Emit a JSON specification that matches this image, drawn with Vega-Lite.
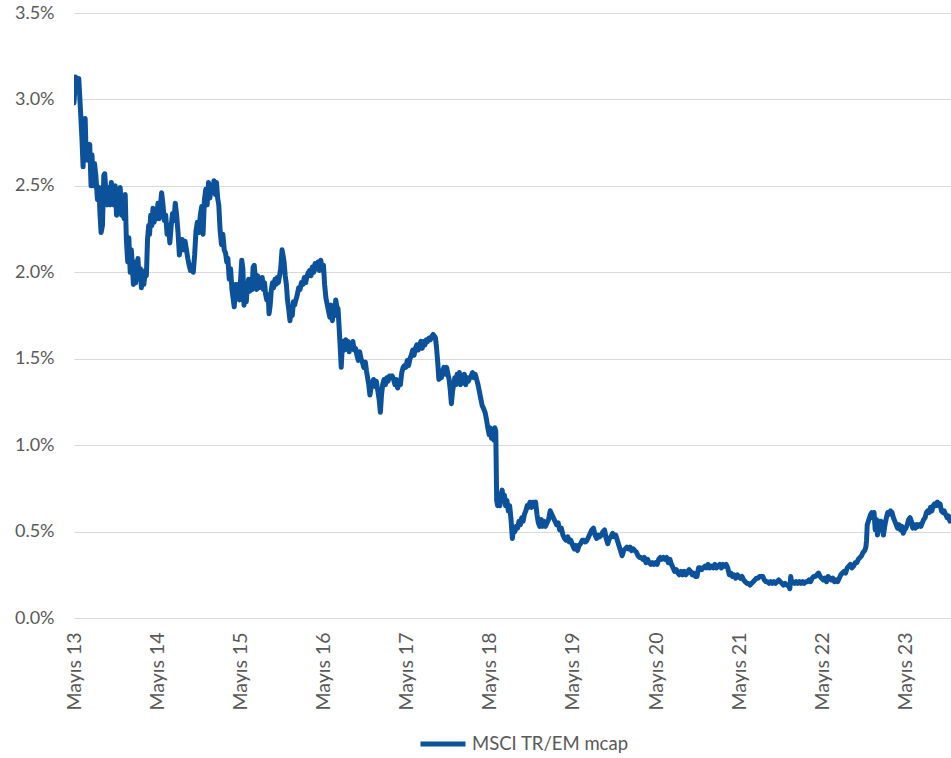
{
  "$schema": "https://vega.github.io/schema/vega-lite/v6.json",
  "width": 877,
  "height": 605,
  "autosize": {"type": "none"},
  "padding": {"left": 74, "top": 13, "right": 0, "bottom": 140},
  "background": "white",
  "config": {
    "view": {"stroke": null},
    "font": "Lato",
    "axis": {"labelColor": "#595959", "labelFont": "Lato", "ticks": false, "domain": false}
  },
  "data": {
    "values": [
      {"date":"2013-05-01","value":2.98},{"date":"2013-05-08","value":3.13},{"date":"2013-05-15","value":3.11},{"date":"2013-05-22","value":3.12},{"date":"2013-05-29","value":2.95},
      {"date":"2013-06-05","value":2.77},{"date":"2013-06-10","value":2.61},{"date":"2013-06-14","value":2.82},{"date":"2013-06-19","value":2.89},{"date":"2013-06-24","value":2.65},{"date":"2013-06-28","value":2.74},
      {"date":"2013-07-03","value":2.65},{"date":"2013-07-09","value":2.74},{"date":"2013-07-15","value":2.50},{"date":"2013-07-19","value":2.68},{"date":"2013-07-25","value":2.50},{"date":"2013-07-30","value":2.63},
      {"date":"2013-08-05","value":2.56},{"date":"2013-08-12","value":2.42},{"date":"2013-08-19","value":2.49},{"date":"2013-08-23","value":2.34},{"date":"2013-08-28","value":2.23},
      {"date":"2013-09-03","value":2.27},{"date":"2013-09-09","value":2.56},{"date":"2013-09-13","value":2.57},{"date":"2013-09-19","value":2.45},{"date":"2013-09-25","value":2.39},
      {"date":"2013-10-01","value":2.49},{"date":"2013-10-07","value":2.39},{"date":"2013-10-12","value":2.52},{"date":"2013-10-18","value":2.45},{"date":"2013-10-24","value":2.39},{"date":"2013-10-29","value":2.50},
      {"date":"2013-11-04","value":2.33},{"date":"2013-11-09","value":2.45},{"date":"2013-11-15","value":2.39},{"date":"2013-11-20","value":2.49},{"date":"2013-11-26","value":2.33},
      {"date":"2013-12-02","value":2.42},{"date":"2013-12-07","value":2.31},{"date":"2013-12-12","value":2.45},{"date":"2013-12-17","value":2.19},{"date":"2013-12-23","value":2.06},{"date":"2013-12-28","value":2.20},
      {"date":"2014-01-03","value":2.00},{"date":"2014-01-08","value":2.13},{"date":"2014-01-13","value":2.02},{"date":"2014-01-17","value":1.93},{"date":"2014-01-22","value":2.06},{"date":"2014-01-27","value":1.94},
      {"date":"2014-02-01","value":2.01},{"date":"2014-02-06","value":2.08},{"date":"2014-02-11","value":1.96},{"date":"2014-02-17","value":2.02},{"date":"2014-02-21","value":1.91},{"date":"2014-02-26","value":2.00},
      {"date":"2014-03-04","value":1.93},{"date":"2014-03-10","value":2.01},{"date":"2014-03-15","value":1.98},{"date":"2014-03-20","value":2.19},{"date":"2014-03-25","value":2.27},{"date":"2014-03-29","value":2.22},
      {"date":"2014-04-03","value":2.33},{"date":"2014-04-08","value":2.27},{"date":"2014-04-13","value":2.37},{"date":"2014-04-18","value":2.29},{"date":"2014-04-24","value":2.36},{"date":"2014-04-29","value":2.31},
      {"date":"2014-05-05","value":2.40},{"date":"2014-05-10","value":2.31},{"date":"2014-05-16","value":2.39},{"date":"2014-05-21","value":2.46},{"date":"2014-05-27","value":2.39},
      {"date":"2014-06-02","value":2.30},{"date":"2014-06-08","value":2.33},{"date":"2014-06-14","value":2.22},{"date":"2014-06-20","value":2.27},{"date":"2014-06-26","value":2.17},
      {"date":"2014-07-02","value":2.27},{"date":"2014-07-08","value":2.34},{"date":"2014-07-14","value":2.30},{"date":"2014-07-20","value":2.40},{"date":"2014-07-26","value":2.33},
      {"date":"2014-08-01","value":2.23},{"date":"2014-08-07","value":2.10},{"date":"2014-08-13","value":2.16},{"date":"2014-08-19","value":2.19},{"date":"2014-08-25","value":2.13},
      {"date":"2014-09-01","value":2.18},{"date":"2014-09-07","value":2.13},{"date":"2014-09-13","value":2.08},{"date":"2014-09-19","value":2.04},{"date":"2014-09-25","value":2.01},
      {"date":"2014-10-01","value":2.04},{"date":"2014-10-07","value":2.00},{"date":"2014-10-13","value":2.10},{"date":"2014-10-19","value":2.24},{"date":"2014-10-25","value":2.29},
      {"date":"2014-11-01","value":2.23},{"date":"2014-11-07","value":2.33},{"date":"2014-11-13","value":2.38},{"date":"2014-11-19","value":2.22},{"date":"2014-11-25","value":2.42},
      {"date":"2014-12-01","value":2.48},{"date":"2014-12-07","value":2.39},{"date":"2014-12-13","value":2.52},{"date":"2014-12-19","value":2.43},{"date":"2014-12-25","value":2.50},
      {"date":"2015-01-01","value":2.48},{"date":"2015-01-06","value":2.53},{"date":"2015-01-12","value":2.45},{"date":"2015-01-17","value":2.52},{"date":"2015-01-22","value":2.43},{"date":"2015-01-27","value":2.39},
      {"date":"2015-02-02","value":2.24},{"date":"2015-02-08","value":2.16},{"date":"2015-02-14","value":2.22},{"date":"2015-02-20","value":2.13},{"date":"2015-02-26","value":2.11},
      {"date":"2015-03-03","value":2.06},{"date":"2015-03-08","value":2.08},{"date":"2015-03-14","value":1.96},{"date":"2015-03-20","value":2.02},{"date":"2015-03-26","value":1.90},
      {"date":"2015-04-01","value":1.84},{"date":"2015-04-05","value":1.80},{"date":"2015-04-11","value":1.93},{"date":"2015-04-17","value":1.87},{"date":"2015-04-23","value":1.93},{"date":"2015-04-28","value":1.84},
      {"date":"2015-05-03","value":1.96},{"date":"2015-05-08","value":2.07},{"date":"2015-05-13","value":2.02},{"date":"2015-05-18","value":1.81},{"date":"2015-05-23","value":1.90},{"date":"2015-05-28","value":1.83},
      {"date":"2015-06-02","value":1.93},{"date":"2015-06-07","value":1.96},{"date":"2015-06-12","value":1.89},{"date":"2015-06-17","value":1.96},{"date":"2015-06-22","value":1.90},{"date":"2015-06-27","value":2.03},
      {"date":"2015-07-02","value":2.04},{"date":"2015-07-07","value":1.96},{"date":"2015-07-12","value":1.90},{"date":"2015-07-17","value":1.98},{"date":"2015-07-22","value":1.91},{"date":"2015-07-27","value":1.94},
      {"date":"2015-08-01","value":1.93},{"date":"2015-08-06","value":1.97},{"date":"2015-08-11","value":1.90},{"date":"2015-08-16","value":1.94},{"date":"2015-08-21","value":1.87},{"date":"2015-08-26","value":1.84},
      {"date":"2015-09-01","value":1.87},{"date":"2015-09-05","value":1.76},{"date":"2015-09-10","value":1.81},{"date":"2015-09-15","value":1.90},{"date":"2015-09-20","value":1.94},{"date":"2015-09-25","value":1.91},
      {"date":"2015-10-01","value":1.96},{"date":"2015-10-06","value":1.93},{"date":"2015-10-11","value":1.97},{"date":"2015-10-16","value":1.94},{"date":"2015-10-21","value":1.98},{"date":"2015-10-26","value":2.02},
      {"date":"2015-11-01","value":2.13},{"date":"2015-11-05","value":2.10},{"date":"2015-11-10","value":2.06},{"date":"2015-11-15","value":1.98},{"date":"2015-11-20","value":1.93},{"date":"2015-11-25","value":1.84},
      {"date":"2015-12-01","value":1.78},{"date":"2015-12-06","value":1.72},{"date":"2015-12-11","value":1.79},{"date":"2015-12-16","value":1.75},{"date":"2015-12-21","value":1.83},{"date":"2015-12-26","value":1.81},
      {"date":"2016-01-01","value":1.84},{"date":"2016-01-07","value":1.87},{"date":"2016-01-13","value":1.91},{"date":"2016-01-19","value":1.90},{"date":"2016-01-25","value":1.94},
      {"date":"2016-02-01","value":1.93},{"date":"2016-02-07","value":1.97},{"date":"2016-02-13","value":1.94},{"date":"2016-02-19","value":1.98},{"date":"2016-02-25","value":2.00},
      {"date":"2016-03-01","value":2.01},{"date":"2016-03-07","value":1.98},{"date":"2016-03-13","value":2.03},{"date":"2016-03-19","value":2.00},{"date":"2016-03-25","value":2.05},
      {"date":"2016-04-01","value":2.02},{"date":"2016-04-07","value":2.06},{"date":"2016-04-13","value":2.01},{"date":"2016-04-19","value":2.07},{"date":"2016-04-25","value":2.02},
      {"date":"2016-05-01","value":2.04},{"date":"2016-05-06","value":1.93},{"date":"2016-05-12","value":1.85},{"date":"2016-05-18","value":1.81},{"date":"2016-05-24","value":1.77},{"date":"2016-05-29","value":1.74},
      {"date":"2016-06-04","value":1.81},{"date":"2016-06-09","value":1.72},{"date":"2016-06-14","value":1.78},{"date":"2016-06-19","value":1.75},{"date":"2016-06-24","value":1.84},{"date":"2016-06-29","value":1.80},
      {"date":"2016-07-04","value":1.79},{"date":"2016-07-08","value":1.70},{"date":"2016-07-13","value":1.58},{"date":"2016-07-18","value":1.45},{"date":"2016-07-23","value":1.58},{"date":"2016-07-28","value":1.60},
      {"date":"2016-08-02","value":1.55},{"date":"2016-08-07","value":1.61},{"date":"2016-08-12","value":1.56},{"date":"2016-08-17","value":1.60},{"date":"2016-08-22","value":1.54},{"date":"2016-08-27","value":1.58},
      {"date":"2016-09-01","value":1.56},{"date":"2016-09-07","value":1.60},{"date":"2016-09-13","value":1.55},{"date":"2016-09-19","value":1.56},{"date":"2016-09-25","value":1.52},
      {"date":"2016-10-01","value":1.49},{"date":"2016-10-07","value":1.54},{"date":"2016-10-13","value":1.50},{"date":"2016-10-19","value":1.48},{"date":"2016-10-25","value":1.45},
      {"date":"2016-11-01","value":1.48},{"date":"2016-11-06","value":1.43},{"date":"2016-11-11","value":1.39},{"date":"2016-11-16","value":1.35},{"date":"2016-11-21","value":1.29},{"date":"2016-11-26","value":1.33},
      {"date":"2016-12-01","value":1.35},{"date":"2016-12-07","value":1.38},{"date":"2016-12-13","value":1.34},{"date":"2016-12-19","value":1.37},{"date":"2016-12-25","value":1.32},
      {"date":"2017-01-01","value":1.26},{"date":"2017-01-06","value":1.19},{"date":"2017-01-11","value":1.29},{"date":"2017-01-16","value":1.35},{"date":"2017-01-22","value":1.38},{"date":"2017-01-28","value":1.35},
      {"date":"2017-02-03","value":1.39},{"date":"2017-02-09","value":1.37},{"date":"2017-02-15","value":1.40},{"date":"2017-02-21","value":1.39},{"date":"2017-02-27","value":1.40},
      {"date":"2017-03-05","value":1.38},{"date":"2017-03-11","value":1.35},{"date":"2017-03-17","value":1.38},{"date":"2017-03-23","value":1.33},{"date":"2017-03-29","value":1.36},
      {"date":"2017-04-04","value":1.35},{"date":"2017-04-10","value":1.42},{"date":"2017-04-16","value":1.45},{"date":"2017-04-22","value":1.46},{"date":"2017-04-28","value":1.45},
      {"date":"2017-05-04","value":1.49},{"date":"2017-05-10","value":1.46},{"date":"2017-05-16","value":1.50},{"date":"2017-05-22","value":1.52},{"date":"2017-05-28","value":1.55},
      {"date":"2017-06-03","value":1.52},{"date":"2017-06-09","value":1.56},{"date":"2017-06-15","value":1.58},{"date":"2017-06-21","value":1.55},{"date":"2017-06-27","value":1.58},
      {"date":"2017-07-03","value":1.60},{"date":"2017-07-09","value":1.56},{"date":"2017-07-15","value":1.60},{"date":"2017-07-21","value":1.58},{"date":"2017-07-27","value":1.61},
      {"date":"2017-08-02","value":1.60},{"date":"2017-08-08","value":1.62},{"date":"2017-08-14","value":1.61},{"date":"2017-08-20","value":1.63},{"date":"2017-08-26","value":1.64},
      {"date":"2017-09-01","value":1.63},{"date":"2017-09-05","value":1.62},{"date":"2017-09-10","value":1.56},{"date":"2017-09-15","value":1.48},{"date":"2017-09-20","value":1.38},{"date":"2017-09-25","value":1.43},
      {"date":"2017-10-01","value":1.39},{"date":"2017-10-06","value":1.42},{"date":"2017-10-12","value":1.45},{"date":"2017-10-18","value":1.41},{"date":"2017-10-24","value":1.45},{"date":"2017-10-30","value":1.41},
      {"date":"2017-11-04","value":1.38},{"date":"2017-11-09","value":1.32},{"date":"2017-11-14","value":1.24},{"date":"2017-11-19","value":1.31},{"date":"2017-11-24","value":1.35},{"date":"2017-11-29","value":1.39},
      {"date":"2017-12-04","value":1.35},{"date":"2017-12-09","value":1.41},{"date":"2017-12-14","value":1.38},{"date":"2017-12-19","value":1.42},{"date":"2017-12-24","value":1.35},{"date":"2017-12-29","value":1.39},
      {"date":"2018-01-04","value":1.36},{"date":"2018-01-10","value":1.41},{"date":"2018-01-16","value":1.35},{"date":"2018-01-22","value":1.39},{"date":"2018-01-28","value":1.37},
      {"date":"2018-02-03","value":1.39},{"date":"2018-02-09","value":1.40},{"date":"2018-02-15","value":1.42},{"date":"2018-02-21","value":1.39},{"date":"2018-02-27","value":1.41},
      {"date":"2018-03-05","value":1.38},{"date":"2018-03-11","value":1.35},{"date":"2018-03-17","value":1.31},{"date":"2018-03-23","value":1.27},{"date":"2018-03-29","value":1.23},
      {"date":"2018-04-05","value":1.21},{"date":"2018-04-11","value":1.19},{"date":"2018-04-17","value":1.15},{"date":"2018-04-23","value":1.10},{"date":"2018-04-29","value":1.06},
      {"date":"2018-05-04","value":1.10},{"date":"2018-05-09","value":1.04},{"date":"2018-05-14","value":1.09},{"date":"2018-05-19","value":1.03},{"date":"2018-05-24","value":1.10},{"date":"2018-05-28","value":1.08},
      {"date":"2018-06-01","value":0.68},{"date":"2018-06-05","value":0.65},{"date":"2018-06-10","value":0.71},{"date":"2018-06-15","value":0.65},{"date":"2018-06-20","value":0.71},{"date":"2018-06-25","value":0.74},{"date":"2018-06-30","value":0.68},
      {"date":"2018-07-05","value":0.71},{"date":"2018-07-10","value":0.65},{"date":"2018-07-16","value":0.68},{"date":"2018-07-22","value":0.62},{"date":"2018-07-28","value":0.65},
      {"date":"2018-08-03","value":0.57},{"date":"2018-08-09","value":0.46},{"date":"2018-08-14","value":0.52},{"date":"2018-08-20","value":0.50},{"date":"2018-08-26","value":0.53},
      {"date":"2018-09-01","value":0.52},{"date":"2018-09-07","value":0.56},{"date":"2018-09-13","value":0.54},{"date":"2018-09-19","value":0.58},{"date":"2018-09-25","value":0.56},
      {"date":"2018-10-01","value":0.60},{"date":"2018-10-07","value":0.62},{"date":"2018-10-13","value":0.65},{"date":"2018-10-19","value":0.64},{"date":"2018-10-25","value":0.67},
      {"date":"2018-11-01","value":0.64},{"date":"2018-11-07","value":0.67},{"date":"2018-11-13","value":0.65},{"date":"2018-11-19","value":0.67},{"date":"2018-11-25","value":0.60},
      {"date":"2018-12-01","value":0.55},{"date":"2018-12-07","value":0.53},{"date":"2018-12-13","value":0.57},{"date":"2018-12-19","value":0.53},{"date":"2018-12-25","value":0.56},
      {"date":"2019-01-01","value":0.53},{"date":"2019-01-08","value":0.55},{"date":"2019-01-15","value":0.57},{"date":"2019-01-22","value":0.62},{"date":"2019-01-29","value":0.60},
      {"date":"2019-02-05","value":0.58},{"date":"2019-02-12","value":0.56},{"date":"2019-02-19","value":0.54},{"date":"2019-02-26","value":0.55},
      {"date":"2019-03-05","value":0.51},{"date":"2019-03-12","value":0.52},{"date":"2019-03-19","value":0.48},{"date":"2019-03-26","value":0.46},
      {"date":"2019-04-02","value":0.45},{"date":"2019-04-09","value":0.47},{"date":"2019-04-16","value":0.44},{"date":"2019-04-23","value":0.45},
      {"date":"2019-05-01","value":0.42},{"date":"2019-05-08","value":0.40},{"date":"2019-05-15","value":0.42},{"date":"2019-05-22","value":0.39},{"date":"2019-05-29","value":0.42},
      {"date":"2019-06-05","value":0.43},{"date":"2019-06-12","value":0.45},{"date":"2019-06-19","value":0.45},{"date":"2019-06-26","value":0.44},
      {"date":"2019-07-03","value":0.45},{"date":"2019-07-10","value":0.47},{"date":"2019-07-17","value":0.49},{"date":"2019-07-24","value":0.51},{"date":"2019-07-31","value":0.52},
      {"date":"2019-08-07","value":0.48},{"date":"2019-08-14","value":0.46},{"date":"2019-08-21","value":0.48},{"date":"2019-08-28","value":0.47},
      {"date":"2019-09-04","value":0.48},{"date":"2019-09-11","value":0.50},{"date":"2019-09-18","value":0.51},{"date":"2019-09-25","value":0.46},
      {"date":"2019-10-02","value":0.43},{"date":"2019-10-09","value":0.46},{"date":"2019-10-16","value":0.47},{"date":"2019-10-23","value":0.49},{"date":"2019-10-30","value":0.47},
      {"date":"2019-11-06","value":0.48},{"date":"2019-11-13","value":0.45},{"date":"2019-11-20","value":0.42},{"date":"2019-11-27","value":0.39},
      {"date":"2019-12-04","value":0.36},{"date":"2019-12-11","value":0.39},{"date":"2019-12-18","value":0.40},{"date":"2019-12-25","value":0.41},
      {"date":"2020-01-01","value":0.40},{"date":"2020-01-08","value":0.41},{"date":"2020-01-15","value":0.39},{"date":"2020-01-22","value":0.40},{"date":"2020-01-29","value":0.39},
      {"date":"2020-02-05","value":0.38},{"date":"2020-02-12","value":0.36},{"date":"2020-02-19","value":0.35},{"date":"2020-02-26","value":0.35},
      {"date":"2020-03-04","value":0.34},{"date":"2020-03-11","value":0.35},{"date":"2020-03-18","value":0.32},{"date":"2020-03-25","value":0.34},
      {"date":"2020-04-01","value":0.32},{"date":"2020-04-08","value":0.31},{"date":"2020-04-15","value":0.32},{"date":"2020-04-22","value":0.31},{"date":"2020-04-29","value":0.32},
      {"date":"2020-05-06","value":0.31},{"date":"2020-05-13","value":0.34},{"date":"2020-05-20","value":0.35},{"date":"2020-05-27","value":0.34},
      {"date":"2020-06-03","value":0.35},{"date":"2020-06-10","value":0.34},{"date":"2020-06-17","value":0.35},{"date":"2020-06-24","value":0.32},
      {"date":"2020-07-01","value":0.34},{"date":"2020-07-08","value":0.31},{"date":"2020-07-15","value":0.29},{"date":"2020-07-22","value":0.27},{"date":"2020-07-29","value":0.28},
      {"date":"2020-08-05","value":0.26},{"date":"2020-08-12","value":0.25},{"date":"2020-08-19","value":0.27},{"date":"2020-08-26","value":0.25},
      {"date":"2020-09-02","value":0.27},{"date":"2020-09-09","value":0.25},{"date":"2020-09-16","value":0.26},{"date":"2020-09-23","value":0.28},{"date":"2020-09-30","value":0.27},
      {"date":"2020-10-07","value":0.25},{"date":"2020-10-14","value":0.26},{"date":"2020-10-21","value":0.24},{"date":"2020-10-28","value":0.24},
      {"date":"2020-11-04","value":0.29},{"date":"2020-11-11","value":0.29},{"date":"2020-11-18","value":0.28},{"date":"2020-11-25","value":0.29},
      {"date":"2020-12-02","value":0.30},{"date":"2020-12-09","value":0.29},{"date":"2020-12-16","value":0.31},{"date":"2020-12-23","value":0.29},
      {"date":"2021-01-01","value":0.30},{"date":"2021-01-08","value":0.29},{"date":"2021-01-15","value":0.31},{"date":"2021-01-22","value":0.29},{"date":"2021-01-29","value":0.30},
      {"date":"2021-02-05","value":0.31},{"date":"2021-02-12","value":0.29},{"date":"2021-02-19","value":0.31},{"date":"2021-02-26","value":0.30},
      {"date":"2021-03-05","value":0.31},{"date":"2021-03-12","value":0.29},{"date":"2021-03-19","value":0.25},{"date":"2021-03-26","value":0.26},
      {"date":"2021-04-02","value":0.24},{"date":"2021-04-09","value":0.25},{"date":"2021-04-16","value":0.23},{"date":"2021-04-23","value":0.25},{"date":"2021-04-30","value":0.24},
      {"date":"2021-05-07","value":0.23},{"date":"2021-05-14","value":0.24},{"date":"2021-05-21","value":0.22},{"date":"2021-05-28","value":0.21},
      {"date":"2021-06-04","value":0.20},{"date":"2021-06-11","value":0.20},{"date":"2021-06-18","value":0.19},{"date":"2021-06-25","value":0.20},
      {"date":"2021-07-02","value":0.21},{"date":"2021-07-09","value":0.22},{"date":"2021-07-16","value":0.23},{"date":"2021-07-23","value":0.23},{"date":"2021-07-30","value":0.24},
      {"date":"2021-08-06","value":0.24},{"date":"2021-08-13","value":0.24},{"date":"2021-08-20","value":0.22},{"date":"2021-08-27","value":0.21},
      {"date":"2021-09-03","value":0.21},{"date":"2021-09-10","value":0.20},{"date":"2021-09-17","value":0.21},{"date":"2021-09-24","value":0.20},
      {"date":"2021-10-01","value":0.21},{"date":"2021-10-08","value":0.20},{"date":"2021-10-15","value":0.21},{"date":"2021-10-22","value":0.22},{"date":"2021-10-29","value":0.21},
      {"date":"2021-11-05","value":0.20},{"date":"2021-11-12","value":0.19},{"date":"2021-11-19","value":0.20},{"date":"2021-11-26","value":0.19},
      {"date":"2021-12-03","value":0.19},{"date":"2021-12-10","value":0.17},{"date":"2021-12-14","value":0.24},{"date":"2021-12-17","value":0.20},{"date":"2021-12-24","value":0.21},{"date":"2021-12-31","value":0.20},
      {"date":"2022-01-07","value":0.21},{"date":"2022-01-14","value":0.20},{"date":"2022-01-21","value":0.21},{"date":"2022-01-28","value":0.20},
      {"date":"2022-02-04","value":0.21},{"date":"2022-02-11","value":0.20},{"date":"2022-02-18","value":0.21},{"date":"2022-02-25","value":0.21},
      {"date":"2022-03-04","value":0.22},{"date":"2022-03-11","value":0.21},{"date":"2022-03-18","value":0.23},{"date":"2022-03-25","value":0.24},
      {"date":"2022-04-01","value":0.24},{"date":"2022-04-08","value":0.25},{"date":"2022-04-15","value":0.26},{"date":"2022-04-22","value":0.24},{"date":"2022-04-29","value":0.23},
      {"date":"2022-05-06","value":0.22},{"date":"2022-05-13","value":0.23},{"date":"2022-05-20","value":0.21},{"date":"2022-05-27","value":0.24},
      {"date":"2022-06-03","value":0.23},{"date":"2022-06-10","value":0.22},{"date":"2022-06-17","value":0.23},{"date":"2022-06-24","value":0.21},
      {"date":"2022-07-01","value":0.22},{"date":"2022-07-08","value":0.21},{"date":"2022-07-15","value":0.23},{"date":"2022-07-22","value":0.25},{"date":"2022-07-29","value":0.26},
      {"date":"2022-08-05","value":0.27},{"date":"2022-08-12","value":0.26},{"date":"2022-08-19","value":0.29},{"date":"2022-08-26","value":0.30},
      {"date":"2022-09-02","value":0.31},{"date":"2022-09-09","value":0.29},{"date":"2022-09-16","value":0.30},{"date":"2022-09-23","value":0.32},{"date":"2022-09-30","value":0.32},
      {"date":"2022-10-07","value":0.34},{"date":"2022-10-14","value":0.35},{"date":"2022-10-21","value":0.36},{"date":"2022-10-28","value":0.38},
      {"date":"2022-11-04","value":0.39},{"date":"2022-11-09","value":0.41},{"date":"2022-11-12","value":0.45},{"date":"2022-11-15","value":0.54},{"date":"2022-11-20","value":0.56},{"date":"2022-11-25","value":0.58},{"date":"2022-11-30","value":0.60},
      {"date":"2022-12-05","value":0.61},{"date":"2022-12-10","value":0.58},{"date":"2022-12-15","value":0.61},{"date":"2022-12-20","value":0.51},{"date":"2022-12-25","value":0.57},{"date":"2022-12-30","value":0.48},
      {"date":"2023-01-05","value":0.56},{"date":"2023-01-10","value":0.51},{"date":"2023-01-15","value":0.56},{"date":"2023-01-20","value":0.52},{"date":"2023-01-25","value":0.48},
      {"date":"2023-02-01","value":0.54},{"date":"2023-02-07","value":0.58},{"date":"2023-02-13","value":0.61},{"date":"2023-02-19","value":0.60},{"date":"2023-02-25","value":0.62},
      {"date":"2023-03-04","value":0.61},{"date":"2023-03-10","value":0.58},{"date":"2023-03-16","value":0.56},{"date":"2023-03-22","value":0.54},{"date":"2023-03-28","value":0.52},
      {"date":"2023-04-04","value":0.54},{"date":"2023-04-10","value":0.51},{"date":"2023-04-16","value":0.53},{"date":"2023-04-22","value":0.49},{"date":"2023-04-28","value":0.51},
      {"date":"2023-05-04","value":0.52},{"date":"2023-05-10","value":0.54},{"date":"2023-05-16","value":0.57},{"date":"2023-05-22","value":0.58},{"date":"2023-05-28","value":0.56},
      {"date":"2023-06-03","value":0.52},{"date":"2023-06-09","value":0.54},{"date":"2023-06-15","value":0.52},{"date":"2023-06-21","value":0.54},{"date":"2023-06-27","value":0.53},
      {"date":"2023-07-03","value":0.54},{"date":"2023-07-09","value":0.53},{"date":"2023-07-15","value":0.55},{"date":"2023-07-21","value":0.57},{"date":"2023-07-27","value":0.58},
      {"date":"2023-08-02","value":0.61},{"date":"2023-08-08","value":0.62},{"date":"2023-08-14","value":0.61},{"date":"2023-08-20","value":0.64},{"date":"2023-08-26","value":0.62},
      {"date":"2023-09-01","value":0.65},{"date":"2023-09-07","value":0.66},{"date":"2023-09-13","value":0.65},{"date":"2023-09-19","value":0.67},{"date":"2023-09-25","value":0.65},
      {"date":"2023-10-01","value":0.66},{"date":"2023-10-07","value":0.62},{"date":"2023-10-13","value":0.61},{"date":"2023-10-19","value":0.62},{"date":"2023-10-25","value":0.60},
      {"date":"2023-11-01","value":0.58},{"date":"2023-11-07","value":0.59},{"date":"2023-11-13","value":0.56},{"date":"2023-11-17","value":0.57}
    ]
  },
  "mark": {"type": "line", "strokeWidth": 5, "strokeJoin": "round", "strokeCap": "round", "clip": true},
  "encoding": {
    "x": {
      "field": "date", "type": "temporal", "title": null,
      "scale": {"domain": [{"year": 2013, "month": 5, "date": 1}, {"year": 2023, "month": 11, "date": 18}]},
      "axis": {
        "grid": false, "labelAngle": -90, "labelPadding": 14, "labelFontSize": 19.5,
        "values": [
          {"year": 2013, "month": 5, "date": 1}, {"year": 2014, "month": 5, "date": 1}, {"year": 2015, "month": 5, "date": 1},
          {"year": 2016, "month": 5, "date": 1}, {"year": 2017, "month": 5, "date": 1}, {"year": 2018, "month": 5, "date": 1},
          {"year": 2019, "month": 5, "date": 1}, {"year": 2020, "month": 5, "date": 1}, {"year": 2021, "month": 5, "date": 1},
          {"year": 2022, "month": 5, "date": 1}, {"year": 2023, "month": 5, "date": 1}
        ],
        "labelExpr": "'Mayıs ' + timeFormat(datum.value, '%y')"
      }
    },
    "y": {
      "field": "value", "type": "quantitative", "title": null,
      "scale": {"domain": [0, 3.5], "nice": false},
      "axis": {
        "values": [0, 0.5, 1, 1.5, 2, 2.5, 3, 3.5],
        "labelExpr": "format(datum.value, '.1f') + '%'",
        "labelFontSize": 18,
        "grid": true, "gridColor": "#D9D9D9", "gridWidth": 1, "labelPadding": 20
      }
    },
    "color": {
      "datum": "MSCI TR/EM mcap",
      "type": "nominal",
      "scale": {"range": ["#0B529B"]},
      "legend": {
        "title": null, "orient": "none", "legendX": 344, "legendY": 706,
        "symbolType": "stroke", "symbolSize": 2025, "symbolStrokeWidth": 5,
        "labelFontSize": 18.5, "labelColor": "#595959", "labelFont": "Lato", "labelOffset": 4, "labelLimit": 300
      }
    }
  }
}
